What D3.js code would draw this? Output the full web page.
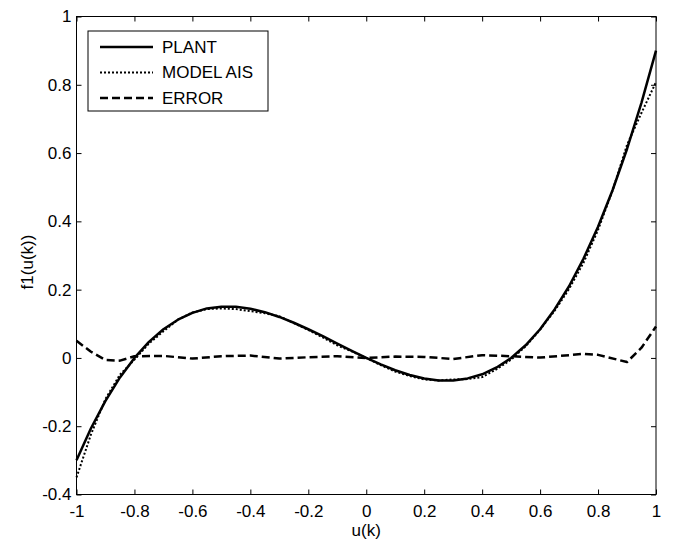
<!DOCTYPE html>
<html>
<head>
<meta charset="utf-8">
<script src="https://cdn.jsdelivr.net/npm/d3@7"></script>
<style>
body { margin: 0; background: #fff; }
svg text { font-family: "Liberation Sans", Arial, sans-serif; font-size: 17px; fill: #000; }
</style>
</head>
<body>
<div id="graph"></div>
<script>
// values
var uValues = [-1, -0.95, -0.9, -0.85, -0.8, -0.75, -0.7, -0.65, -0.6, -0.55, -0.5,
    -0.45, -0.4, -0.35, -0.3, -0.25, -0.2, -0.15, -0.1, -0.05, 0,
    0.05, 0.1, 0.15, 0.2, 0.25, 0.3, 0.35, 0.4, 0.45, 0.5,
    0.55, 0.6, 0.65, 0.7, 0.75, 0.8, 0.85, 0.9, 0.95, 1]
var plant = [-0.30, -0.206, -0.126, -0.057, 0.0, 0.047, 0.084, 0.112, 0.132, 0.145, 0.15,
    0.15, 0.144, 0.134, 0.12, 0.103, 0.084, 0.064, 0.042, 0.021, 0,
    -0.019, -0.036, -0.05, -0.06, -0.066, -0.066, -0.06, -0.048, -0.028, 0.0,
    0.037, 0.084, 0.142, 0.21, 0.291, 0.384, 0.491, 0.612, 0.748, 0.90]
var modelAis = [-0.35, -0.224, -0.12, -0.049, -0.005, 0.042, 0.078, 0.112, 0.133, 0.143, 0.145,
    0.143, 0.137, 0.131, 0.122, 0.102, 0.082, 0.06, 0.037, 0.019, 0,
    -0.021, -0.04, -0.053, -0.063, -0.066, -0.063, -0.062, -0.056, -0.033, -0.005,
    0.034, 0.083, 0.138, 0.202, 0.279, 0.375, 0.49, 0.624, 0.718, 0.808]
var errU = [-1, -0.95, -0.9, -0.85, -0.8, -0.7, -0.6, -0.5, -0.4, -0.3, -0.2, -0.1, 0,
    0.1, 0.2, 0.3, 0.4, 0.5, 0.6, 0.7, 0.75, 0.8, 0.9, 0.95, 1]
var errorVals = [0.05, 0.018, -0.006, -0.008, 0.005, 0.006, -0.002, 0.005, 0.007, -0.002, 0.002, 0.005, 0,
    0.004, 0.003, -0.003, 0.008, 0.005, 0.001, 0.008, 0.012, 0.009, -0.012, 0.03, 0.092]

var xTicks = [-1, -0.8, -0.6, -0.4, -0.2, 0, 0.2, 0.4, 0.6, 0.8, 1]
var yTicks = [-0.4, -0.2, 0, 0.2, 0.4, 0.6, 0.8, 1]
var legendNames = ["PLANT", "MODEL AIS", "ERROR"]

var W = 675, H = 547
var margin = {top: 16.5, right: 19, bottom: 52.5, left: 76.5},
    width = W - margin.left - margin.right,
    height = H - margin.top - margin.bottom

var fmt = function(d){ return String(d) }

var svg = d3.select("#graph").append("svg")
    .attr("width", W)
    .attr("height", H)

var g = svg.append("g")
    .attr("transform", "translate(" + margin.left + "," + margin.top + ")")

var x = d3.scaleLinear().domain([-1, 1]).range([0, width])
var y = d3.scaleLinear().domain([-0.4, 1]).range([height, 0])

g.append("rect")
    .attr("width", width)
    .attr("height", height)
    .attr("fill", "none")
    .attr("stroke", "#000")
    .attr("stroke-width", 1)

function styleAxis(sel){
    sel.select(".domain").remove()
    sel.selectAll(".tick line").attr("stroke", "#000")
    sel.attr("font-size", null).attr("font-family", null)
    sel.selectAll("text").attr("fill", "#000")
}

g.append("g")
    .attr("transform", "translate(0," + height + ")")
    .call(d3.axisBottom(x).tickValues(xTicks).tickSize(-5).tickPadding(10).tickFormat(fmt))
    .call(styleAxis)

g.append("g")
    .call(d3.axisTop(x).tickValues(xTicks).tickSize(-5).tickFormat(""))
    .call(styleAxis)

g.append("g")
    .call(d3.axisLeft(y).tickValues(yTicks).tickSize(-5).tickPadding(5).tickFormat(fmt))
    .call(styleAxis)

g.append("g")
    .attr("transform", "translate(" + width + ",0)")
    .call(d3.axisRight(y).tickValues(yTicks).tickSize(-5).tickFormat(""))
    .call(styleAxis)

var series = [
    {name: legendNames[0], u: uValues, v: plant, dash: null, w: 2.5},
    {name: legendNames[1], u: uValues, v: modelAis, dash: "2,2", w: 2},
    {name: legendNames[2], u: errU, v: errorVals, dash: "8,4", w: 2.5}
]

var line = d3.line()
    .x(function(d) { return x(d[0]) })
    .y(function(d) { return y(d[1]) })

series.forEach(function(s){
    g.append("path")
        .datum(d3.zip(s.u, s.v))
        .attr("fill", "none")
        .attr("stroke", "#000")
        .attr("stroke-width", s.w)
        .attr("stroke-dasharray", s.dash)
        .attr("stroke-linejoin", "round")
        .attr("d", line)
})

// legend
var leg = svg.append("g").attr("transform", "translate(88,31)")
leg.append("rect")
    .attr("width", 180)
    .attr("height", 80)
    .attr("fill", "#fff")
    .attr("stroke", "#000")
    .attr("stroke-width", 1)

series.forEach(function(s, i){
    var yy = 16 + i * 25.5
    leg.append("line")
        .attr("x1", 12).attr("x2", 65)
        .attr("y1", yy).attr("y2", yy)
        .attr("stroke", "#000")
        .attr("stroke-width", s.w)
        .attr("stroke-dasharray", s.dash)
    leg.append("text")
        .attr("x", 74)
        .attr("y", yy)
        .attr("dy", "0.35em")
        .text(s.name)
})

svg.append("text")
    .attr("x", margin.left + width / 2)
    .attr("y", 536)
    .attr("text-anchor", "middle")
    .text("u(k)")

svg.append("text")
    .attr("transform", "translate(33,262) rotate(-90)")
    .attr("text-anchor", "middle")
    .text("f1(u(k))")
</script>
</body>
</html>
